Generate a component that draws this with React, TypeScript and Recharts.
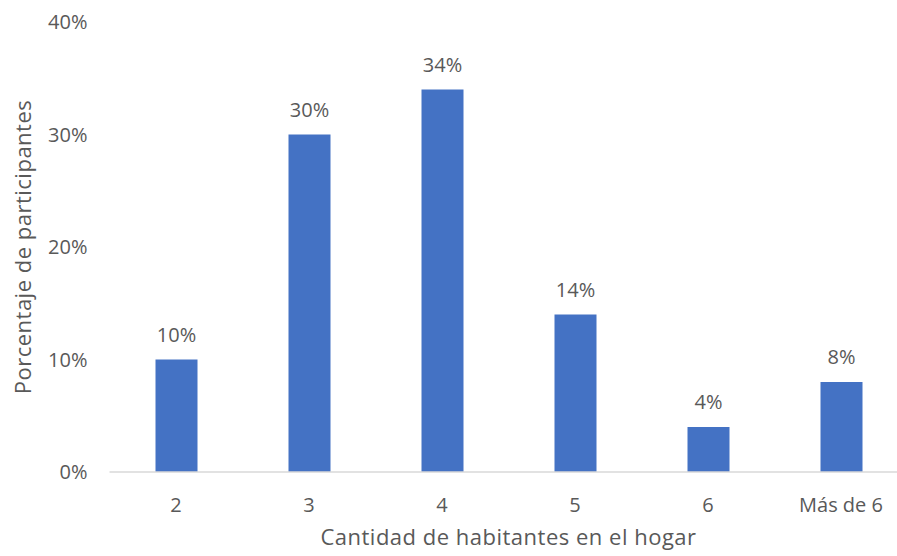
import React from 'react';
import { BarChart, Bar, XAxis, YAxis, LabelList } from 'recharts';

const categories = ['2', '3', '4', '5', '6', 'Más de 6'];
const shares = [10, 30, 34, 14, 4, 8];
const yTicks = [0, 10, 20, 30, 40];

const data = categories.map((name, i) => ({ name, value: shares[i] }));

const font = '"Open Sans", sans-serif';
const textColor = '#595959';

const App = () => {
  return (
    <div
      style={{
        position: 'absolute',
        left: 0,
        top: 0,
        width: 897,
        height: 556,
        overflow: 'hidden',
        background: '#fff',
        fontFamily: font,
      }}
    >
      <BarChart
        width={920}
        height={556}
        data={data}
        margin={{ top: 22, right: 12.5, left: 0, bottom: 0 }}
      >
        <XAxis
          dataKey="name"
          height={84}
          tickLine={false}
          tickSize={0}
          tickMargin={26}
          axisLine={{ stroke: '#d9d9d9', strokeWidth: 1.5 }}
          tick={{ fill: textColor, fontSize: 20, fontFamily: font }}
          label={{
            value: 'Cantidad de habitantes en el hogar',
            position: 'insideBottom',
            offset: 11,
            fill: textColor,
            fontSize: 22,
            fontFamily: font,
            letterSpacing: 0.5,
          }}
        />
        <YAxis
          width={109.5}
          domain={[0, 40]}
          ticks={yTicks}
          interval={0}
          axisLine={false}
          tickLine={false}
          tickSize={0}
          tickMargin={22}
          tickFormatter={(v) => `${v}%`}
          tick={{ fill: textColor, fontSize: 20, fontFamily: font }}
          label={{
            value: 'Porcentaje de participantes',
            angle: -90,
            position: 'insideLeft',
            offset: 23,
            style: { textAnchor: 'middle' },
            fill: textColor,
            fontSize: 22,
            fontFamily: font,
            letterSpacing: 0.5,
          }}
        />
        <Bar dataKey="value" fill="#4472C4" barSize={42} isAnimationActive={false}>
          <LabelList
            dataKey="value"
            position="top"
            offset={18}
            formatter={(v: number) => `${v}%`}
            fill={textColor}
            fontSize={20}
            fontFamily={font}
          />
        </Bar>
      </BarChart>
    </div>
  );
};

export default App;
